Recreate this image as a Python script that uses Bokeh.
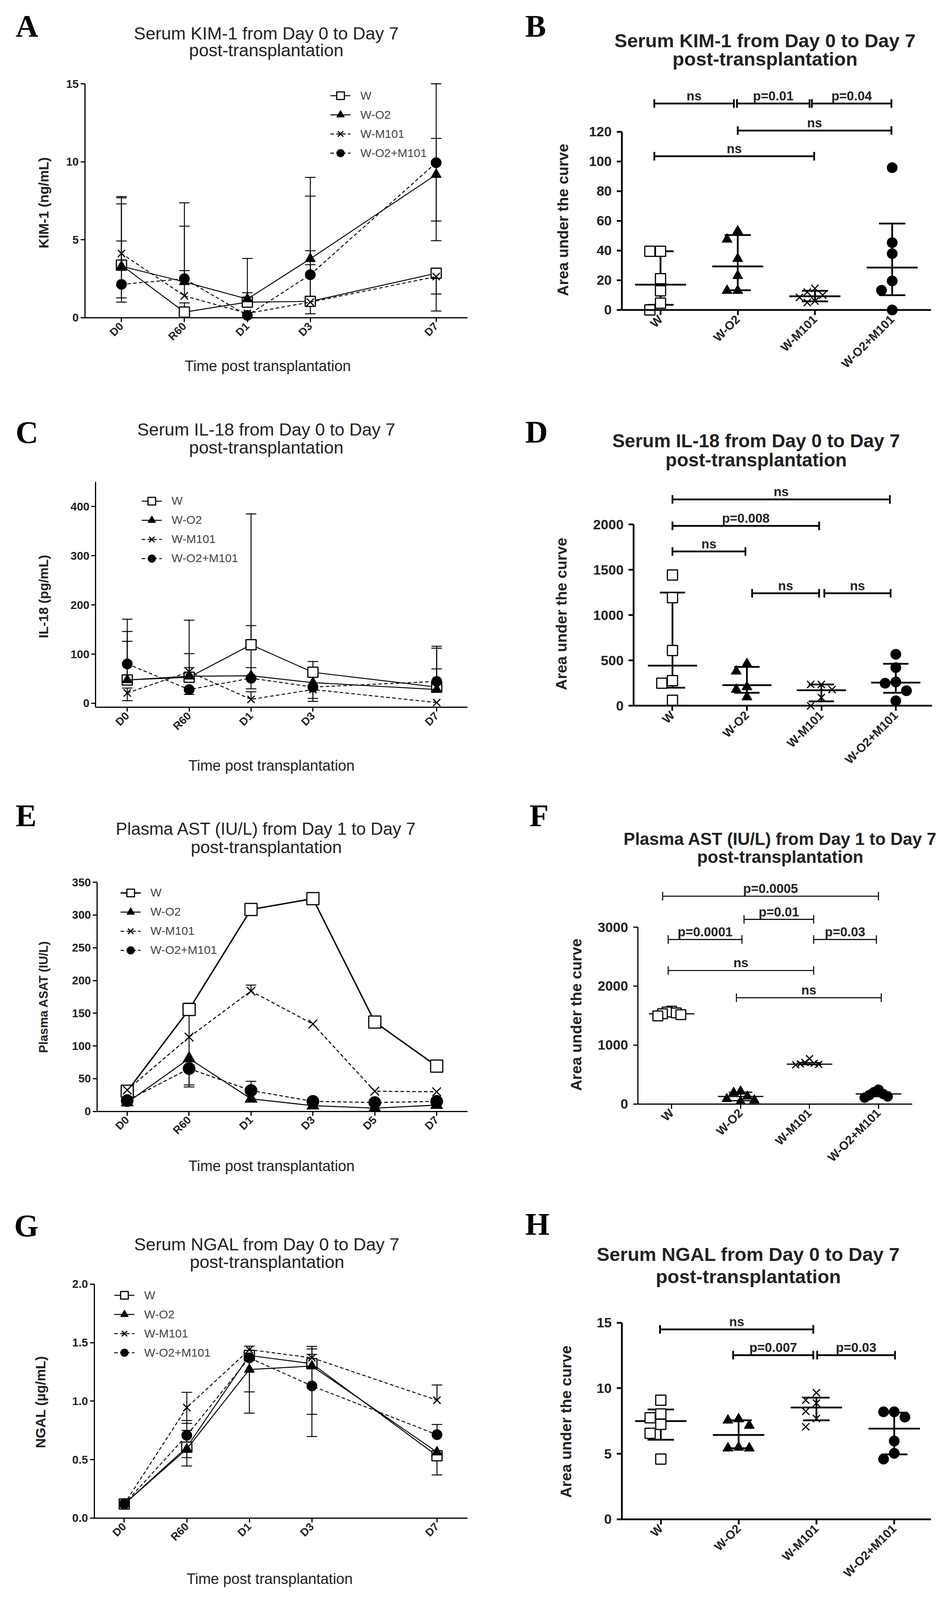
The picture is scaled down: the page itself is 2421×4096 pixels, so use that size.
import math
from bokeh.plotting import figure
from bokeh.models import Range1d, FixedTicker, Label, Legend, LegendItem
from bokeh.layouts import column, row
from bokeh.embed import file_html
from bokeh.resources import INLINE

# ======================= DATA =======================
GROUPS = ["W", "W-O2", "W-M101", "W-O2+M101"]

# ---- A: serum KIM-1 (ng/mL): mean, error-bar upper end, lower end
A_TIMES = ["D0", "R60", "D1", "D3", "D7"]
A_POS = [0, 1, 2, 3, 5]
A_W = [3.37, 0.36, 1.0, 1.05, 2.85]
A_W_HI = [7.69, 0.95, 3.8, 3.4, None]
A_W_LO = [None, None, None, None, 0.43]
A_O2 = [3.3, 2.3, 1.2, 3.78, 9.18]
A_O2_HI = [7.30, 5.87, 1.6, 9.0, 11.5]
A_O2_LO = [None, None, None, None, 6.2]
A_M = [4.12, 1.4, 0.28, 1.0, 2.64]
A_M_HI = [7.77, 3.02, None, 4.3, None]
A_M_LO = [1.0, None, None, 0.25, 1.52]
A_OM = [2.14, 2.5, 0.15, 2.76, 9.94]
A_OM_HI = [4.92, 7.37, None, 7.8, 15.0]
A_OM_LO = [1.27, None, None, None, 4.94]

# ---- B: KIM-1 AUC, individual values, median and interquartile range
B_W = [39.5, 39.5, 21, 12.9, 4.6, 0]
B_O2 = [53, 47.5, 34.5, 23, 13, 13]
B_M = [14.5, 12, 10, 8.5, 6, 5]
B_OM = [95.8, 45.3, 37.9, 19.5, 13.2, 0]
B_MED = [17, 29.3, 9.2, 28.5]
B_Q1 = [3.5, 13.3, 5.8, 9.9]
B_Q3 = [39.5, 50.4, 12.9, 58.2]
B_SIG = [(-0.08, 0.95, 139, "ns"), (0.99, 1.93, 139, "p=0.01"), (1.96, 2.99, 139, "p=0.04"),
         (1.0, 2.99, 120.8, "ns"), (-0.08, 1.99, 103.5, "ns")]

# ---- C: serum IL-18 (pg/mL)
C_TIMES = ["D0", "R60", "D1", "D3", "D7"]
C_POS = [0, 1, 2, 3, 5]
C_W = [47.5, 53, 119, 63, 33]
C_W_HI = [146, 169, 385, 85, 112]
C_W_LO = [None, None, None, None, None]
C_O2 = [47.5, 55, 56, 42, 28]
C_O2_HI = [126, 101, 158, None, 70]
C_O2_LO = [None, None, 29.5, 10, None]
C_M = [21, 64, 8, 28, 1.5]
C_M_HI = [31, 72.5, 23.4, None, None]
C_M_LO = [5.3, None, None, 4, None]
C_OM = [80, 28, 51, 33, 44.5]
C_OM_HI = [171, None, 72.5, None, 116]
C_OM_LO = [None, 18, None, None, 25]

# ---- D: IL-18 AUC
D_W = [1444, 1194, 611, 278, 250, 61]
D_O2 = [464, 381, 208, 180, 97]
D_M = [236, 236, 180, 92, 0]
D_OM = [569, 422, 264, 250, 167, 56]
D_MED = [444, 228, 172, 256]
D_Q1 = [200, 144, 50, 144]
D_Q3 = [1250, 430, 236, 464]
D_SIG = [(0.0, 2.92, 2278, "ns"), (0.0, 1.97, 1986, "p=0.008"), (0.0, 0.98, 1703, "ns"),
         (1.07, 1.97, 1242, "ns"), (2.04, 2.93, 1242, "ns")]

# ---- E: plasma AST (IU/L)
E_TIMES = ["D0", "R60", "D1", "D3", "D5", "D7"]
E_POS = [0, 1, 2, 3, 4, 5]
E_W = [30.8, 155.8, 308.5, 325, 136.5, 69.2]
E_W_HI = [None, 165.4, None, None, None, None]
E_W_LO = [None, None, None, None, None, None]
E_O2 = [13.5, 80.8, 19.2, 8.8, 5, 9.6]
E_O2_HI = [None, 150, None, None, None, None]
E_O2_LO = [None, 40.4, None, None, None, None]
E_M = [32.7, 113.5, 183.8, 133.5, 30.8, 30]
E_M_HI = [None, None, 193, None, None, None]
E_M_LO = [None, None, None, None, None, None]
E_OM = [16.5, 65.4, 31.9, 15.4, 13.5, 15.4]
E_OM_HI = [None, None, 46, None, None, None]
E_OM_LO = [None, 37.3, None, None, None, None]

# ---- F: AST AUC
F_W = [1575, 1560, 1545, 1530, 1515, 1495]
F_O2 = [214, 192, 128, 85, 64, 43]
F_M = [769, 705, 690, 680, 671, 665]
F_OM = [244, 201, 171, 150, 128, 107]
F_MED = [1530, 128, 675, 171]
F_Q1 = [1505, 56, 668, 125]
F_Q3 = [1560, 201, 700, 205]
F_SIG = [(-0.13, 3.0, 3526, "p=0.0005"), (1.05, 2.06, 3132, "p=0.01"),
         (-0.05, 1.02, 2791, "p=0.0001"), (2.06, 2.97, 2791, "p=0.03"),
         (-0.05, 2.06, 2265, "ns"), (0.94, 3.04, 1803, "ns")]

# ---- G: serum NGAL (ug/mL)
G_TIMES = ["D0", "R60", "D1", "D3", "D7"]
G_POS = [0, 1, 2, 3, 5]
G_W = [0.12, 0.606, 1.39, 1.32, 0.533]
G_W_HI = [None, None, None, None, None]
G_W_LO = [None, 0.517, None, None, 0.49]
G_O2 = [0.12, 0.59, 1.27, 1.30, 0.564]
G_O2_HI = [None, 0.75, None, 1.446, None]
G_O2_LO = [None, 0.445, 1.079, 0.887, 0.369]
G_M = [0.12, 0.945, 1.44, 1.37, 1.008]
G_M_HI = [None, 1.075, 1.47, 1.468, 1.138]
G_M_LO = [None, 0.81, None, None, None]
G_OM = [0.12, 0.707, 1.37, 1.13, 0.713]
G_OM_HI = [None, 0.834, None, 1.40, 0.80]
G_OM_LO = [None, None, 0.897, 0.697, None]

# ---- H: NGAL AUC
H_W = [9.09, 8.04, 7.75, 7.25, 6.56, 4.59]
H_O2 = [7.65, 7.55, 7.15, 5.48, 5.42, 5.42]
H_M = [9.66, 9.09, 8.87, 8.24, 7.69, 7.06]
H_OM = [8.2, 8.2, 7.8, 5.97, 5.03, 4.59]
H_MED = [7.49, 6.43, 8.53, 6.92]
H_Q1 = [6.07, 5.42, 7.55, 4.95]
H_Q3 = [8.38, 7.55, 9.28, 8.14]
H_SIG = [(-0.01, 1.96, 14.5, "ns"), (0.93, 1.96, 12.53, "p=0.007"), (2.01, 3.01, 12.53, "p=0.03")]

# ======================= LAYOUT / STYLE =======================
S = 0.949
SANS = "Liberation Sans"
SERIF = "Liberation Serif"
TXT = "#222222"
SUB = "post-transplantation"
XTITLE = "Time post transplantation"
AUC = "Area under the curve"
TSHIFT = 8.5   # reference px: visual-centre correction for middle-baseline texts

COLS = [(8.43, 1290), (1290, 2535)]
ROWS = [(8.43, 1060), (1060, 2130), (2130, 3210), (3210, 4300)]

MARK = ["square", "triangle", "x", "circle"]
FILL = ["white", "black", "black", "black"]
DASH = ["solid", "solid", "9 6", "9 6"]


def P(v):
    return int(round(S * v))


def make_fig(col, rowi, frame, xr, yr):
    """frame = reference-pixel box of the axes; xr/yr = data values at its edges.
    The Bokeh frame covers the whole figure; axes are placed with fixed_location."""
    cl, cr = COLS[col]
    rt, rb = ROWS[rowi]
    fl, ft, fr, fb = frame
    ppx = S * (fr - fl) / (xr[1] - xr[0])
    ppy = S * (fb - ft) / (yr[1] - yr[0])
    X0 = xr[0] - (S * fl - P(cl)) / ppx
    X1 = xr[1] + (P(cr) - S * fr) / ppx
    Y0 = yr[0] - (P(rb) - S * fb) / ppy
    Y1 = yr[1] + (S * ft - P(rt)) / ppy
    p = figure(width=P(cr) - P(cl), height=P(rb) - P(rt),
               x_range=Range1d(X0, X1), y_range=Range1d(Y0, Y1),
               min_border_left=0, min_border_right=0, min_border_top=0, min_border_bottom=0,
               toolbar_location=None, tools="", output_backend="svg", title=None)
    p.xgrid.visible = False
    p.ygrid.visible = False
    p.outline_line_color = None
    p.background_fill_color = "white"
    p.border_fill_color = "white"
    g = dict(dx=lambda X: xr[0] + (S * X - S * fl) / ppx,
             dy=lambda Y: yr[0] + (S * fb - S * Y) / ppy,
             left=P(cl), bottom=P(rb), ppx=ppx, ppy=ppy, xr=xr, yr=yr)
    return p, g


def style_axes(p, g, xticks, xlabels, yticks, ylabels, ytop, xsize, ysize, aw, tout, xstand, ystand):
    xa, ya = p.xaxis[0], p.yaxis[0]
    for ax in (xa, ya):
        ax.axis_line_width = aw
        ax.axis_line_color = "black"
        ax.major_tick_line_width = aw
        ax.major_tick_line_color = "black"
        ax.major_tick_in = 0
        ax.major_tick_out = tout
        ax.minor_tick_line_color = None
        ax.major_label_text_font = SANS
        ax.major_label_text_font_style = "bold"
        ax.major_label_text_color = TXT
    xr, yr = g["xr"], g["yr"]
    xa.fixed_location = yr[0]
    xa.bounds = (xr[0], xr[1])
    ya.fixed_location = xr[0]
    ya.bounds = (yr[0], ytop)
    xa.ticker = FixedTicker(ticks=list(xticks), minor_ticks=[])
    xa.major_label_overrides = {t: s for t, s in zip(xticks, xlabels)}
    xa.major_label_orientation = math.pi / 4
    xa.major_label_text_font_size = f"{xsize}px"
    xa.major_label_standoff = xstand
    ya.ticker = FixedTicker(ticks=list(yticks), minor_ticks=[])
    ya.major_label_overrides = {t: s for t, s in zip(yticks, ylabels)}
    ya.major_label_text_font_size = f"{ysize}px"
    ya.major_label_standoff = ystand


def text(p, g, X, Y, s, size, bold=False, align="center", baseline="middle", angle=0.0,
         font=SANS, color=TXT):
    p.add_layout(Label(x=g["dx"](X), y=g["dy"](Y), text=s, text_font=font,
                       text_font_size=f"{size}px", text_font_style="bold" if bold else "normal",
                       text_color=color, text_align=align, text_baseline=baseline, angle=angle))


def decorate(p, g, letter, letter_xy, title, title_xy, tsize, tbold, ylabel, ylabel_xy, ysize,
             xtitle_xy=None):
    text(p, g, letter_xy[0], letter_xy[1] + TSHIFT, letter, 80, bold=True, align="left",
         font=SERIF, color="black")
    text(p, g, title_xy[0], title_xy[1] + TSHIFT, title, tsize, bold=tbold)
    text(p, g, title_xy[0], title_xy[2] + TSHIFT, SUB, tsize, bold=tbold)
    text(p, g, ylabel_xy[0], ylabel_xy[1], ylabel, ysize, bold=True, angle=math.pi / 2)
    if xtitle_xy is not None:
        text(p, g, xtitle_xy[0], xtitle_xy[1] + 5, XTITLE, 38)


def line_panel(p, g, pos, series, msize, lw, legend_xy, w_lw=None):
    for (m, hi, lo) in series:
        ex, e0, e1 = [], [], []
        for x, mv, h, l in zip(pos, m, hi, lo):
            for end in (h, l):
                if end is not None:
                    ex.append(x); e0.append(mv); e1.append(end)
        if ex:
            p.segment(x0=ex, y0=e0, x1=ex, y1=e1, line_color="black", line_width=2.4)
            p.scatter(x=ex, y=e1, marker="dash", size=27, line_color="black", line_width=2.4)
    items = []
    for gi, (m, hi, lo) in enumerate(series):
        w = lw if (gi != 0 or w_lw is None) else w_lw
        lr = p.line(pos, m, line_color="black", line_width=w, line_dash=DASH[gi])
        sr = p.scatter(pos, m, marker=MARK[gi], size=msize, fill_color=FILL[gi],
                       line_color="black", line_width=3 if MARK[gi] in ("x", "square") else 1.5)
        items.append(LegendItem(label=GROUPS[gi], renderers=[lr, sr]))
    gx, gy = legend_xy
    gh = 49
    top = S * gy - gh / 2 + 9
    bottom = top + 4 * gh
    leg = Legend(items=items, location=(S * gx - g["left"], g["bottom"] - bottom),
                 orientation="vertical", glyph_width=52, glyph_height=gh, label_height=gh,
                 spacing=0, padding=0, margin=0, border_line_color=None,
                 background_fill_alpha=0, label_text_font=SANS, label_text_font_size="30px",
                 label_text_color="#444444", label_standoff=25)
    p.add_layout(leg)


def swarm(vals, ppx, ppy, ms, maxhalf):
    placed, offs = [], []
    cands = [0]
    for i in range(1, 12):
        cands += [-i, i]
    for v in vals:
        ox = 0.0
        for c in cands:
            ox = c * ms * 1.05
            if all(abs(ox - a) >= ms * 0.95 or abs((v - b) * ppy) >= ms * 0.95 for a, b in placed):
                break
        placed.append((ox, v))
        offs.append(ox / ppx)
    mx = max(abs(o) for o in offs)
    if mx > maxhalf:
        offs = [o * maxhalf / mx for o in offs]
    return offs


def dot_panel(p, g, groups, med, q1, q3, sig, lw, blw, msize, bcap, tsize):
    xs = list(range(len(groups)))
    p.segment(x0=[i - 0.33 for i in xs], y0=med, x1=[i + 0.33 for i in xs], y1=med,
              line_color="black", line_width=lw)
    p.segment(x0=xs, y0=q1, x1=xs, y1=q3, line_color="black", line_width=lw)
    for q in (q1, q3):
        p.segment(x0=[i - 0.17 for i in xs], y0=q, x1=[i + 0.17 for i in xs], y1=q,
                  line_color="black", line_width=lw)
    for gi, vals in enumerate(groups):
        offs = swarm(vals, g["ppx"], g["ppy"], msize, 0.2)
        p.scatter([gi + o for o in offs], vals, marker=MARK[gi], size=msize, fill_color=FILL[gi],
                  line_color="black", line_width=3 if MARK[gi] in ("x", "square") else 1.5)
    for (x0, x1, yb, lab) in sig:
        p.segment(x0=[x0], y0=[yb], x1=[x1], y1=[yb], line_color="black", line_width=blw)
        p.scatter(x=[x0, x1], y=[yb, yb], marker="dash", angle=math.pi / 2, size=bcap,
                  line_color="black", line_width=blw)
        p.add_layout(Label(x=(x0 + x1) / 2, y=yb, y_offset=1, text=lab, text_font=SANS,
                           text_font_size=f"{tsize}px", text_font_style="bold", text_color=TXT,
                           text_align="center", text_baseline="bottom"))


CAT_X = [0, 1, 2, 3]

# ---------------- A ----------------
pA, gA = make_fig(0, 0, (237, 234, 1269, 865), (-0.58, 5.5), (0, 15))
style_axes(pA, gA, A_POS, A_TIMES, [0, 5, 10, 15], ["0", "5", "10", "15"], 15, 28, 29, 3, 11, 6, 5)
line_panel(pA, gA, A_POS, [(A_W, A_W_HI, A_W_LO), (A_O2, A_O2_HI, A_O2_LO),
                           (A_M, A_M_HI, A_M_LO), (A_OM, A_OM_HI, A_OM_LO)], 26, 2.4, (899, 257))
decorate(pA, gA, "A", (50, 70), "Serum KIM-1 from Day 0 to Day 7", (726, 89, 135), 45, False,
         "KIM-1 (ng/mL)", (125, 555), 35, (730, 990))

# ---------------- B ----------------
pB, gB = make_fig(1, 0, (1685, 243, 2518, 844), (-0.5, 3.5), (0, 150))
style_axes(pB, gB, CAT_X, GROUPS, [0, 20, 40, 60, 80, 100, 120],
           ["0", "20", "40", "60", "80", "100", "120"], 120, 31, 35, 4.5, 13, 6, 13)
dot_panel(pB, gB, [B_W, B_O2, B_M, B_OM], B_MED, B_Q1, B_Q3, B_SIG, 4.5, 4.5, 26, 22, 33)
decorate(pB, gB, "B", (1424, 70), "Serum KIM-1 from Day 0 to Day 7", (2071, 109, 158), 49, True,
         AUC, (1526, 601), 39)

# ---------------- C ----------------
pC, gC = make_fig(0, 1, (266, 1308, 1269, 1916), (-0.51, 5.5), (-8.2, 450))
style_axes(pC, gC, C_POS, C_TIMES, [0, 100, 200, 300, 400], ["0", "100", "200", "300", "400"], 450,
           28, 29, 3, 11, 6, 5)
line_panel(pC, gC, C_POS, [(C_W, C_W_HI, C_W_LO), (C_O2, C_O2_HI, C_O2_LO),
                           (C_M, C_M_HI, C_M_LO), (C_OM, C_OM_HI, C_OM_LO)], 26, 2.4, (390, 1350))
decorate(pC, gC, "C", (50, 1166), "Serum IL-18 from Day 0 to Day 7", (726, 1158, 1206), 45, False,
         "IL-18 (pg/mL)", (125, 1617), 34, (740, 2068))

# ---------------- D ----------------
pD, gD = make_fig(1, 1, (1717, 1313, 2522, 1912), (-0.52, 3.49), (0, 2450))
style_axes(pD, gD, CAT_X, GROUPS, [0, 500, 1000, 1500, 2000], ["0", "500", "1000", "1500", "2000"],
           2000, 31, 35, 4.5, 13, 6, 13)
dot_panel(pD, gD, [D_W, D_O2, D_M, D_OM], D_MED, D_Q1, D_Q3, D_SIG, 4.5, 4.5, 26, 22, 33)
decorate(pD, gD, "D", (1424, 1165), "Serum IL-18 from Day 0 to Day 7", (2047, 1189, 1240), 48, True,
         AUC, (1522, 1664), 39)

# ---------------- E ----------------
pE, gE = make_fig(0, 2, (270, 2388, 1269, 3006), (-0.485, 5.5), (0, 350))
style_axes(pE, gE, E_POS, E_TIMES, [0, 50, 100, 150, 200, 250, 300, 350],
           ["0", "50", "100", "150", "200", "250", "300", "350"], 350, 28, 29, 3, 11, 6, 5)
line_panel(pE, gE, E_POS, [(E_W, E_W_HI, E_W_LO), (E_O2, E_O2_HI, E_O2_LO),
                           (E_M, E_M_HI, E_M_LO), (E_OM, E_OM_HI, E_OM_LO)], 31, 2.6, (333, 2407),
           w_lw=3.6)
decorate(pE, gE, "E", (50, 2200), "Plasma AST (IU/L) from Day 1 to Day 7", (726, 2235, 2284), 44,
         False, "Plasma ASAT (IU/L)", (125, 2697), 31, (740, 3148))

# ---------------- F ----------------
pF, gF = make_fig(1, 2, (1728, 2385, 2468, 2986), (-0.49, 3.49), (0, 3780))
style_axes(pF, gF, CAT_X, GROUPS, [0, 1000, 2000, 3000], ["0", "1000", "2000", "3000"], 3000,
           31, 35, 3, 12, 6, 13)
dot_panel(pF, gF, [F_W, F_O2, F_M, F_OM], F_MED, F_Q1, F_Q3, F_SIG, 3, 2.6, 25, 22, 33)
decorate(pF, gF, "F", (1436, 2200), "Plasma AST (IU/L) from Day 1 to Day 7", (2112, 2262, 2311), 44,
         True, AUC, (1562, 2745), 39)

# ---------------- G ----------------
pG, gG = make_fig(0, 3, (262, 3472, 1269, 4103), (-0.48, 5.49), (0, 2.0))
style_axes(pG, gG, G_POS, G_TIMES, [0, 0.5, 1.0, 1.5, 2.0], ["0.0", "0.5", "1.0", "1.5", "2.0"], 2.0,
           28, 29, 3, 11, 6, 5)
line_panel(pG, gG, G_POS, [(G_W, G_W_HI, G_W_LO), (G_O2, G_O2_HI, G_O2_LO),
                           (G_M, G_M_HI, G_M_LO), (G_OM, G_OM_HI, G_OM_LO)], 26, 2.4, (316, 3493))
decorate(pG, gG, "G", (46, 3306), "Serum NGAL from Day 0 to Day 7", (728, 3356, 3404), 45, False,
         "NGAL (\u00b5g/mL)", (117, 3790), 35, (735, 4262))

# ---------------- H ----------------
pH, gH = make_fig(1, 3, (1685, 3541, 2518, 4106), (-0.5, 3.47), (0, 16))
style_axes(pH, gH, CAT_X, GROUPS, [0, 5, 10, 15], ["0", "5", "10", "15"], 15, 31, 35, 4.5, 13, 6, 13)
dot_panel(pH, gH, [H_W, H_O2, H_M, H_OM], H_MED, H_Q1, H_Q3, H_SIG, 4.5, 4.5, 26, 22, 33)
decorate(pH, gH, "H", (1424, 3302), "Serum NGAL from Day 0 to Day 7", (2026, 3383, 3443), 49, True,
         AUC, (1534, 3843), 39)

layout = column(row(pA, pB), row(pC, pD), row(pE, pF), row(pG, pH))
open("out.html", "w").write(file_html(layout, INLINE))
